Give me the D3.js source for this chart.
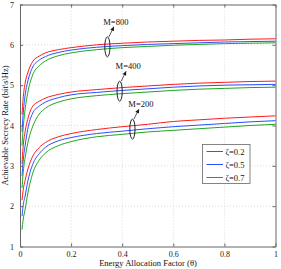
<!DOCTYPE html>
<html>
<head>
<meta charset="utf-8">
<script src="https://d3js.org/d3.v7.min.js"></script>
<style>
  body { margin: 0; background: #fff; }
  text { font-family: "Liberation Serif", "DejaVu Serif", serif; }
</style>
</head>
<body>
<script>
// theta samples
var theta = [0.008, 0.012, 0.02, 0.03, 0.05, 0.075, 0.1, 0.15, 0.2, 0.3, 0.4, 0.5, 0.6, 0.7, 0.8, 0.9, 1.0];

// M=200
var m200_z02 = [2.15, 2.38, 2.64, 2.90, 3.24, 3.45, 3.58, 3.72, 3.80, 3.90, 3.97, 4.03, 4.10, 4.14, 4.18, 4.21, 4.24];
var m200_z05 = [1.75, 2.00, 2.25, 2.60, 3.04, 3.30, 3.46, 3.62, 3.70, 3.80, 3.86, 3.92, 3.97, 4.01, 4.05, 4.09, 4.12];
var m200_z07 = [1.42, 1.65, 1.92, 2.30, 2.82, 3.14, 3.32, 3.50, 3.60, 3.72, 3.78, 3.84, 3.88, 3.92, 3.96, 4.00, 4.03];
// M=400
var m400_z02 = [3.05, 3.45, 3.85, 4.15, 4.48, 4.60, 4.68, 4.77, 4.83, 4.89, 4.94, 4.98, 5.02, 5.05, 5.07, 5.09, 5.10];
var m400_z05 = [2.75, 3.10, 3.50, 3.90, 4.31, 4.48, 4.58, 4.69, 4.76, 4.82, 4.87, 4.91, 4.95, 4.98, 5.00, 5.01, 5.02];
var m400_z07 = [2.45, 2.80, 3.20, 3.55, 3.98, 4.28, 4.43, 4.58, 4.66, 4.74, 4.79, 4.83, 4.87, 4.90, 4.92, 4.94, 4.95];
// M=800
var m800_z02 = [4.27, 4.65, 5.05, 5.30, 5.59, 5.72, 5.80, 5.88, 5.93, 6.00, 6.04, 6.07, 6.09, 6.11, 6.12, 6.14, 6.15];
var m800_z05 = [3.85, 4.25, 4.75, 5.08, 5.45, 5.62, 5.71, 5.81, 5.87, 5.94, 5.98, 6.01, 6.03, 6.05, 6.07, 6.08, 6.09];
var m800_z07 = [3.50, 3.90, 4.40, 4.80, 5.26, 5.48, 5.60, 5.73, 5.80, 5.88, 5.93, 5.96, 5.99, 6.01, 6.03, 6.04, 6.05];

var legendLabels = ["ζ=0.2", "ζ=0.5", "ζ=0.7"];
var colors = ["#ff1a1a", "#2b4dff", "#1fa51f"];
var xTicks = [0, 0.2, 0.4, 0.6, 0.8, 1];
var yTicks = [1, 2, 3, 4, 5, 6, 7];

// annotation: label, theta of ellipse, mid value
var annotations = [
  { label: "M=800", t: 0.342, v: 5.95 },
  { label: "M=400", t: 0.39, v: 4.85 },
  { label: "M=200", t: 0.44, v: 3.91 }
];

var series = [
  { z: 0, v: m200_z02 }, { z: 1, v: m200_z05 }, { z: 2, v: m200_z07 },
  { z: 0, v: m400_z02 }, { z: 1, v: m400_z05 }, { z: 2, v: m400_z07 },
  { z: 0, v: m800_z02 }, { z: 1, v: m800_z05 }, { z: 2, v: m800_z07 }
];

var W = 281, H = 269;
var pL = 20, pR = 275.5, pT = 4.5, pB = 246.5;

var svg = d3.select("body").append("svg")
  .attr("width", W).attr("height", H);

var x = d3.scaleLinear().domain([0, 1]).range([pL, pR]);
var y = d3.scaleLinear().domain([1, 7]).range([pB, pT]);

// grid
svg.append("g").selectAll("line").data(xTicks.slice(1, -1)).enter().append("line")
  .attr("x1", d => x(d)).attr("x2", d => x(d))
  .attr("y1", pT).attr("y2", pB)
  .attr("stroke", "#c8c8c8").attr("stroke-width", 0.7).attr("stroke-dasharray", "1,2");
svg.append("g").selectAll("line").data(yTicks.slice(1, -1)).enter().append("line")
  .attr("x1", pL).attr("x2", pR)
  .attr("y1", d => y(d)).attr("y2", d => y(d))
  .attr("stroke", "#c8c8c8").attr("stroke-width", 0.7).attr("stroke-dasharray", "1,2");

// curves
var line = d3.line()
  .x((d, i) => x(theta[i]))
  .y(d => y(d))
  .curve(d3.curveMonotoneX);

svg.append("g").selectAll("path").data(series).enter().append("path")
  .attr("d", d => line(d.v))
  .attr("fill", "none")
  .attr("stroke", d => colors[d.z])
  .attr("stroke-width", 1);

// axes (MATLAB style, ticks inward)
var fmtX = d => (d === 0 || d === 1) ? String(d) : d3.format(".1f")(d);
var axB = svg.append("g").attr("transform", "translate(0," + pB + ")")
  .call(d3.axisBottom(x).tickValues(xTicks).tickFormat(fmtX).tickSizeInner(-3).tickSizeOuter(0).tickPadding(5));
var axL = svg.append("g").attr("transform", "translate(" + pL + ",0)")
  .call(d3.axisLeft(y).tickValues(yTicks).tickFormat(d3.format("d")).tickSizeInner(-3).tickSizeOuter(0).tickPadding(6));
var axT = svg.append("g").attr("transform", "translate(0," + pT + ")")
  .call(d3.axisTop(x).tickValues(xTicks).tickFormat("").tickSizeInner(-3).tickSizeOuter(0));
var axR = svg.append("g").attr("transform", "translate(" + pR + ",0)")
  .call(d3.axisRight(y).tickValues(yTicks).tickFormat("").tickSizeInner(-3).tickSizeOuter(0));
[axB, axL, axT, axR].forEach(function (a) {
  a.select(".domain").attr("stroke", "#666");
  a.selectAll(".tick line").attr("stroke", "#666");
  a.selectAll("text").attr("font-size", 8).attr("fill", "#222")
    .style("font-family", "Liberation Serif");
});

// annotations
annotations.forEach(function (a) {
  var cx = x(a.t), cy = y(a.v);
  svg.append("ellipse")
    .attr("cx", cx).attr("cy", cy).attr("rx", 2.6).attr("ry", 10)
    .attr("fill", "none").attr("stroke", "#111").attr("stroke-width", 0.9);
  var x1 = cx + 1.5, y1 = cy - 10, x2 = cx + 6.5, y2 = cy - 20;
  svg.append("line")
    .attr("x1", x1).attr("y1", y1).attr("x2", x2).attr("y2", y2)
    .attr("stroke", "#111").attr("stroke-width", 0.7);
  var ang = Math.atan2(y2 - y1, x2 - x1);
  var hl = 4, hw = 2;
  var p = [
    [x2, y2],
    [x2 - hl * Math.cos(ang) + hw * Math.sin(ang), y2 - hl * Math.sin(ang) - hw * Math.cos(ang)],
    [x2 - hl * Math.cos(ang) - hw * Math.sin(ang), y2 - hl * Math.sin(ang) + hw * Math.cos(ang)]
  ];
  svg.append("path").attr("d", "M" + p.join("L") + "Z").attr("fill", "#111");
  svg.append("text")
    .attr("x", x2 + 2).attr("y", y2 - 2)
    .attr("text-anchor", "middle")
    .attr("font-size", 8.5).attr("fill", "#111")
    .text(a.label);
});

// legend
var lg = svg.append("g");
lg.append("rect")
  .attr("x", 202.5).attr("y", 144.5).attr("width", 47.5).attr("height", 39)
  .attr("fill", "#fff").attr("stroke", "#666").attr("stroke-width", 0.8);
legendLabels.forEach(function (l, i) {
  var ly = 151.5 + i * 13;
  lg.append("line").attr("x1", 206.5).attr("x2", 223).attr("y1", ly).attr("y2", ly)
    .attr("stroke", colors[i]).attr("stroke-width", 1);
  lg.append("text").attr("x", 225.5).attr("y", ly + 3)
    .attr("font-size", 8.5).attr("fill", "#111").text(l);
});

// axis labels
svg.append("text")
  .attr("x", 148).attr("y", 266)
  .attr("text-anchor", "middle").attr("font-size", 8.5).attr("fill", "#111")
  .text("Energy Allocation Factor (θ)");
svg.append("text")
  .attr("transform", "translate(8," + ((pT + pB) / 2) + ") rotate(-90)")
  .attr("text-anchor", "middle").attr("font-size", 8.5).attr("fill", "#111")
  .text("Achievable Secrecy Rate (bit\\s\\Hz)");
</script>
</body>
</html>
